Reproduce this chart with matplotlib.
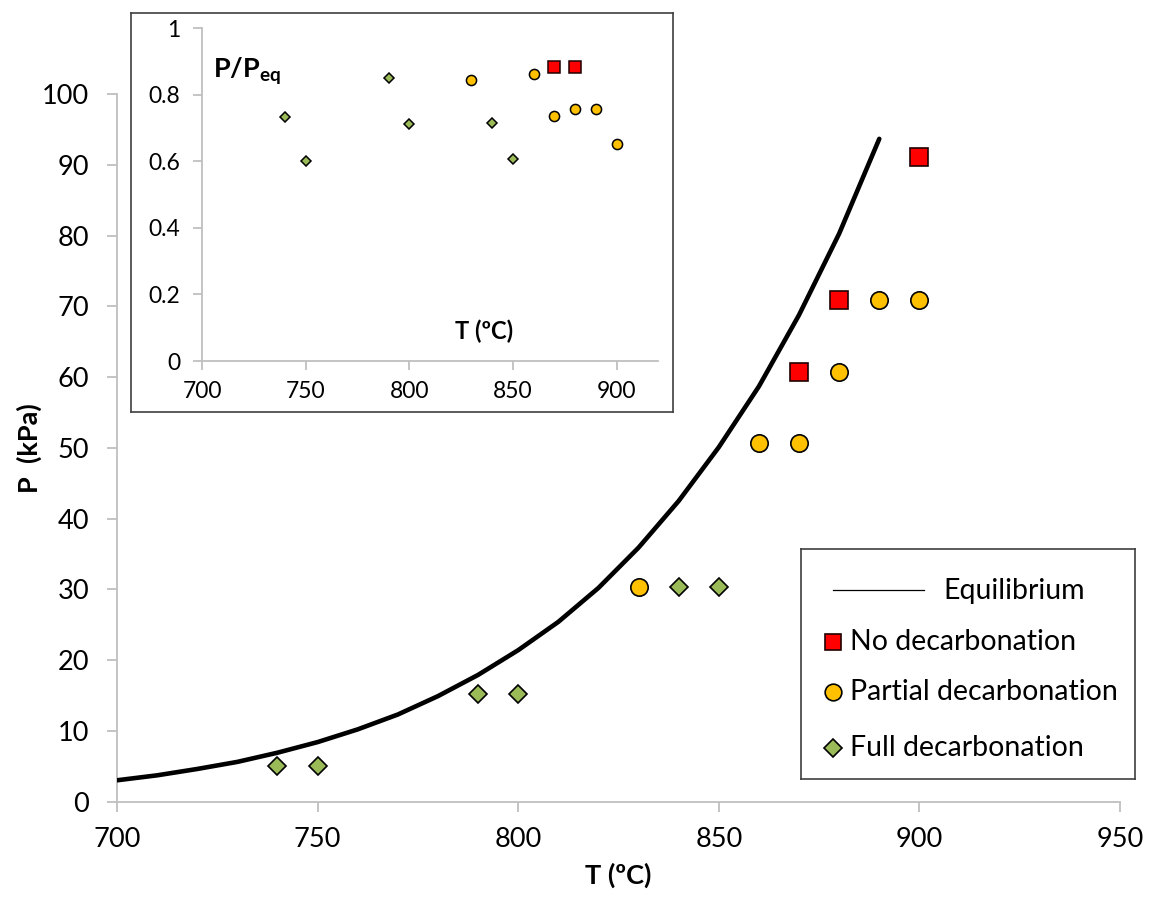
import matplotlib
matplotlib.use("Agg")
import matplotlib.pyplot as plt
from matplotlib.ticker import FuncFormatter

plt.rcParams['font.family'] = ['Lato', 'DejaVu Sans']
plt.rcParams['mathtext.fontset'] = 'custom'
plt.rcParams['mathtext.rm'] = 'Lato'
plt.rcParams['mathtext.bf'] = 'Lato:bold'
plt.rcParams['mathtext.it'] = 'Lato:italic'

# equilibrium curve (kPa)
t_eq = [700, 710, 720, 730, 740, 750, 760, 770, 780, 790,
        800, 810, 820, 830, 840, 850, 860, 870, 880, 890]
p_eq = [3.0, 3.7, 4.6, 5.6, 6.9, 8.4, 10.2, 12.3, 14.9, 17.9,
        21.4, 25.4, 30.2, 35.9, 42.5, 50.1, 58.7, 68.8, 80.3, 93.7]

# experiments (T in ºC, P in kPa)
t_no = [870, 880, 900]
p_no = [60.8, 70.9, 91.2]
t_part = [830, 860, 870, 880, 890, 900]
p_part = [30.4, 50.7, 50.7, 60.8, 70.9, 70.9]
t_full = [740, 750, 790, 800, 840, 850]
p_full = [5.07, 5.07, 15.2, 15.2, 30.4, 30.4]

# inset: P/Peq
t_no_r = [870, 880]
r_no = [0.884, 0.884]
t_part_r = [830, 860, 870, 880, 890, 900]
r_part = [0.846, 0.863, 0.737, 0.757, 0.757, 0.653]
t_full_r = [740, 750, 790, 800, 840, 850]
r_full = [0.734, 0.601, 0.851, 0.711, 0.716, 0.607]

RED = '#FF0000'
ORANGE = '#FFC000'
GREEN = '#9BBB59'
GRID = '#BFBFBF'
FRAME = '#404040'

W, H = 1150, 897
fig = plt.figure(figsize=(W / 100, H / 100), dpi=100)


def box(x0, y0, x1, y1):
    # pixel box -> figure fraction rect
    return [x0 / W, 1 - y1 / H, (x1 - x0) / W, (y1 - y0) / H]


# ---- main chart ----
ax = fig.add_axes(box(117, 94.3, 1120, 801.5))
ax.plot(t_eq, p_eq, color='black', lw=3.3, solid_capstyle='round', zorder=3)
ax.plot(t_no, p_no, 's', ms=13, mfc=RED, mec='#200000', mew=1.2, zorder=4)
ax.plot(t_part, p_part, 'o', ms=12.5, mfc=ORANGE, mec='black', mew=1.2, zorder=4)
ax.plot(t_full, p_full, 'D', ms=9.2, mfc=GREEN, mec='black', mew=1.2, zorder=4)

ax.set_xlim(700, 950)
ax.set_ylim(0, 100)
ax.set_xticks(range(700, 951, 50))
ax.set_yticks(range(0, 101, 10))
for s in ['top', 'right']:
    ax.spines[s].set_visible(False)
for s in ['left', 'bottom']:
    ax.spines[s].set_color(GRID)
    ax.spines[s].set_linewidth(1.3)
ax.tick_params(axis='both', direction='out', length=7, width=1.3,
               color=GRID, labelsize=19.5, labelcolor='black')
ax.tick_params(axis='x', pad=11)
ax.tick_params(axis='y', pad=13)
ax.set_xlabel('T (ºC)', fontsize=19.5, fontweight='bold', labelpad=8)
ax.set_ylabel('P  (kPa)', fontsize=19.5, fontweight='bold', labelpad=0)

# ---- inset ----
frame = fig.add_axes(box(131, 13, 673, 412))
frame.set_xticks([])
frame.set_yticks([])
frame.set_facecolor('white')
for s in frame.spines.values():
    s.set_color(FRAME)
    s.set_linewidth(1.2)

ins = fig.add_axes(box(202, 28.3, 658, 361))
ins.plot(t_no_r, r_no, 's', ms=8, mfc=RED, mec='#200000', mew=1.1)
ins.plot(t_part_r, r_part, 'o', ms=7.3, mfc=ORANGE, mec='black', mew=1.1)
ins.plot(t_full_r, r_full, 'D', ms=5.2, mfc=GREEN, mec='black', mew=1.1)
ins.set_xlim(700, 920)
ins.set_ylim(0, 1)
ins.set_xticks(range(700, 901, 50))
ins.set_yticks([0, 0.2, 0.4, 0.6, 0.8, 1])
ins.yaxis.set_major_formatter(FuncFormatter(lambda v, p: '%g' % v))
ins.patch.set_alpha(0)
for s in ['top', 'right']:
    ins.spines[s].set_visible(False)
for s in ['left', 'bottom']:
    ins.spines[s].set_color(GRID)
    ins.spines[s].set_linewidth(1.3)
ins.tick_params(axis='both', direction='out', length=6.5, width=1.3,
                color=GRID, labelsize=16.5, labelcolor='black')
ins.tick_params(axis='x', pad=8)
ins.tick_params(axis='y', pad=9)
ins.text(0.025, 0.87, r'$\mathbf{P/P_{eq}}$', transform=ins.transAxes,
         fontsize=19.5, va='center', ha='left')
ins.text(0.618, 0.09, 'T (ºC)', transform=ins.transAxes, fontsize=17,
         fontweight='bold', ha='center', va='center')

# ---- legend ----
lg = fig.add_axes(box(801, 549, 1135, 779))
lg.set_xlim(801, 1135)
lg.set_ylim(779, 549)
lg.set_xticks([])
lg.set_yticks([])
for s in lg.spines.values():
    s.set_color(FRAME)
    s.set_linewidth(1.2)
fs = 20.5
lg.plot([833, 924], [590, 590], color='black', lw=0.9)
lg.text(943, 591, 'Equilibrium', fontsize=fs, va='center', ha='left')
lg.plot([833], [642], 's', ms=12, mfc=RED, mec='#200000', mew=1.2)
lg.text(850, 642, 'No decarbonation', fontsize=fs, va='center', ha='left')
lg.plot([833], [692], 'o', ms=12, mfc=ORANGE, mec='black', mew=1.2)
lg.text(850, 692, 'Partial decarbonation', fontsize=fs, va='center', ha='left')
lg.plot([833], [748], 'D', ms=8.8, mfc=GREEN, mec='black', mew=1.2)
lg.text(850, 748, 'Full decarbonation', fontsize=fs, va='center', ha='left')

fig.savefig('out.png', dpi=100)
